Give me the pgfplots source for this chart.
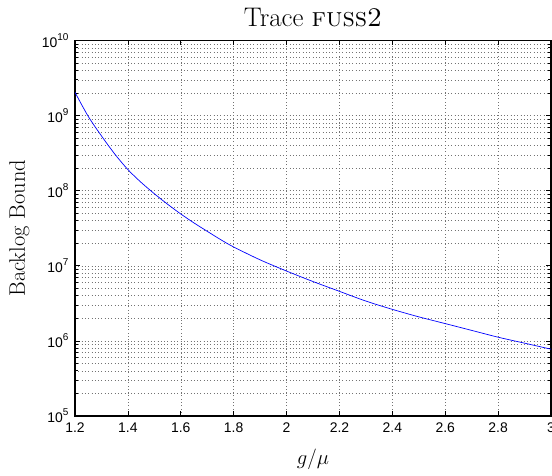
\documentclass[border=0pt]{standalone}
\usepackage{fontspec}
\usepackage{pgfplots}
\pgfplotsset{compat=1.18}
\newfontfamily\tickfont{Liberation Sans}
\newcommand{\ep}[1]{10\raisebox{7bp}{\fontsize{10}{10}\selectfont #1}}

\begin{document}
\begin{tikzpicture}[x=1bp,y=1bp]
\begin{axis}[name=ax, at={(0,0)}, anchor=south west,
  width=476bp, height=375.5bp, scale only axis,
  xmin=1.2, xmax=3, ymode=log, ymin=1e5, ymax=1e10,
  xtick={1.2,1.4,1.6,1.8,2,2.2,2.4,2.6,2.8,3},
  xticklabels={1.2,1.4,1.6,1.8,2,2.2,2.4,2.6,2.8,3},
  ytick={1e5,1e6,1e7,1e8,1e9,1e10},
  yticklabels={\ep{5},\ep{6},\ep{7},\ep{8},\ep{9},\ep{10}},
  ticklabel style={font=\tickfont\fontsize{14}{16}\selectfont},
  xticklabel style={yshift=-3bp},
  yticklabel style={xshift=-3bp},
  tick align=inside,
  major tick length=5bp, minor tick length=3bp,
  tick style={black, line width=0.7bp},
  axis line style={line width=1.2bp},
  xmajorgrids, ymajorgrids, yminorgrids,
  major grid style={black!55, line width=0.5bp, dash pattern=on 0.7bp off 2.6bp},
  minor grid style={black!55, line width=0.5bp, dash pattern=on 0.7bp off 2.6bp},
]
\addplot[blue, line width=0.7bp, smooth] coordinates {
(1.20,2.04e9) (1.25,9.77e8) (1.30,5.37e8) (1.35,3.09e8) (1.40,1.91e8)
(1.45,1.29e8) (1.50,9.12e7) (1.55,6.61e7) (1.60,4.90e7) (1.65,3.72e7)
(1.70,2.88e7) (1.75,2.24e7) (1.80,1.78e7) (1.90,1.20e7) (2.00,8.51e6)
(2.10,6.17e6) (2.20,4.57e6) (2.30,3.39e6) (2.40,2.63e6) (2.50,2.09e6)
(2.60,1.70e6) (2.70,1.38e6) (2.80,1.12e6) (2.90,9.33e5) (3.00,7.76e5)
};
\end{axis}
\node[anchor=base, font=\fontsize{27}{30}\selectfont] at ([yshift=13.8bp]ax.north) {Trace \textsc{fuss2}};
\node[anchor=base, font=\fontsize{20}{24}\selectfont] at ([yshift=-48bp]ax.south) {$g/\mu$};
\node[anchor=base, rotate=90, font=\fontsize{22.5}{26}\selectfont] at ([xshift=-50bp]ax.west) {Backlog Bound};
\pgfresetboundingbox
\path[use as bounding box] ([shift={(-75bp,-60bp)}]ax.south west) rectangle ([shift={(1bp,40.5bp)}]ax.north east);
\end{tikzpicture}
\end{document}
